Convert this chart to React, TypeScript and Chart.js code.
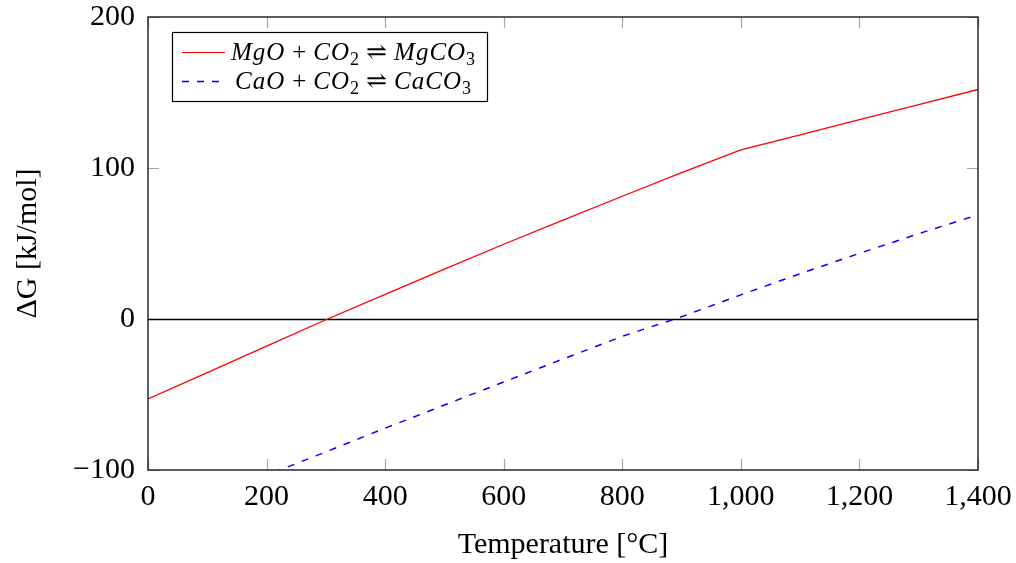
import React, { useEffect, useRef } from 'react';
import { Chart, registerables } from 'chart.js';

Chart.register(...registerables);

// ---- data ----
const temperatures = [0, 100, 200, 300, 400, 500, 600, 700, 800, 900, 1000, 1100, 1200, 1300, 1400];
const mgoDeltaG = [-53, -35.5, -18, -0.5, 16.3, 33, 49.5, 65.5, 81.3, 97, 112, 122, 132, 142, 152];
const caoDeltaG = [-134, -118.5, -103.5, -88, -72.3, -57, -41.7, -26.5, -11.5, 1.5, 16, 30, 43.5, 56.5, 69];
const xTickValues = [0, 200, 400, 600, 800, 1000, 1200, 1400];
const xTickLabels = ['0', '200', '400', '600', '800', '1,000', '1,200', '1,400'];
const yTickValues = [-100, 0, 100, 200];
const yTickLabels = ['\u2212100', '0', '100', '200'];
const seriesNames = ['MgO + CO\u2082 \u21CC MgCO\u2083', 'CaO + CO\u2082 \u21CC CaCO\u2083'];
const xTitle = 'Temperature [\u00B0C]';
const yTitle = '\u0394G [kJ/mol]';

// legend as math runs: i = italic letters, r = upright operator, s = subscript
type Run = { t: string; k: 'i' | 'r' | 's' };
const legendRuns: Run[][] = [
  [
    { t: 'MgO', k: 'i' }, { t: '+', k: 'r' }, { t: 'CO', k: 'i' }, { t: '2', k: 's' },
    { t: '\u21CC', k: 'r' }, { t: 'MgCO', k: 'i' }, { t: '3', k: 's' },
  ],
  [
    { t: 'CaO', k: 'i' }, { t: '+', k: 'r' }, { t: 'CO', k: 'i' }, { t: '2', k: 's' },
    { t: '\u21CC', k: 'r' }, { t: 'CaCO', k: 'i' }, { t: '3', k: 's' },
  ],
];

const SERIF = '"Liberation Serif", "DejaVu Serif", serif';
const RED = 'rgb(255,0,0)';
const BLUE = 'rgb(0,0,255)';
const DASH = [7, 8];

function runFont(k: Run['k'], size: number) {
  if (k === 'i') return `italic ${size}px ${SERIF}`;
  if (k === 's') return `${Math.round(size * 0.7)}px ${SERIF}`;
  return `${size}px ${SERIF}`;
}

function drawRuns(ctx: CanvasRenderingContext2D, runs: Run[], cx: number, cy: number, size: number) {
  const opSpace = size * 0.28;
  const widths = runs.map((r) => {
    ctx.font = runFont(r.k, size);
    const w = ctx.measureText(r.t).width;
    return r.k === 'r' ? w + 2 * opSpace : w + (r.k === 'i' ? size * 0.04 * r.t.length : 0);
  });
  const total = widths.reduce((a, b) => a + b, 0);
  let x = cx - total / 2;
  ctx.textBaseline = 'alphabetic';
  ctx.textAlign = 'left';
  const base = cy + size * 0.33;
  runs.forEach((r, i) => {
    ctx.font = runFont(r.k, size);
    if (r.k === 'r') {
      ctx.fillText(r.t, x + opSpace, base);
    } else if (r.k === 's') {
      ctx.fillText(r.t, x, base + size * 0.2);
    } else {
      let xx = x;
      for (const ch of r.t) {
        ctx.fillText(ch, xx, base);
        xx += ctx.measureText(ch).width + size * 0.04;
      }
    }
    x += widths[i];
  });
}

const decorPlugin = {
  id: 'decor',
  beforeDatasetsDraw(chart: any) {
    const { ctx, chartArea, scales } = chart;
    const { left, right, top, bottom } = chartArea;
    const xs = scales.x;
    const ys = scales.y;
    ctx.save();
    ctx.strokeStyle = '#a6a6a6';
    ctx.lineWidth = 1.2;
    const tl = 11;
    ctx.beginPath();
    xTickValues.forEach((v) => {
      const px = Math.round(xs.getPixelForValue(v)) + 0.5;
      ctx.moveTo(px, bottom);
      ctx.lineTo(px, bottom - tl);
      ctx.moveTo(px, top);
      ctx.lineTo(px, top + tl);
    });
    yTickValues.forEach((v) => {
      const py = Math.round(ys.getPixelForValue(v)) + 0.5;
      ctx.moveTo(left, py);
      ctx.lineTo(left + tl, py);
      ctx.moveTo(right, py);
      ctx.lineTo(right - tl, py);
    });
    ctx.stroke();
    // zero line
    const y0 = Math.round(ys.getPixelForValue(0)) + 0.5;
    ctx.strokeStyle = '#000';
    ctx.lineWidth = 1.3;
    ctx.beginPath();
    ctx.moveTo(left, y0);
    ctx.lineTo(right, y0);
    ctx.stroke();
    ctx.restore();
  },
  afterDatasetsDraw(chart: any) {
    const { ctx, chartArea } = chart;
    const { left, right, top, bottom } = chartArea;
    ctx.save();
    ctx.strokeStyle = '#1a1a1a';
    ctx.lineWidth = 1.4;
    ctx.strokeRect(left, top, right - left, bottom - top);

    // legend
    const bx = left + 24;
    const by = top + 15;
    const bw = 315;
    const bh = 69;
    ctx.fillStyle = '#fff';
    ctx.fillRect(bx, by, bw, bh);
    ctx.strokeStyle = '#000';
    ctx.lineWidth = 1.2;
    ctx.strokeRect(bx + 0.5, by + 0.5, bw, bh);
    const colors = [RED, BLUE];
    const dashes = [[], DASH];
    const rows = [by + 19.5, by + 49];
    rows.forEach((ry, i) => {
      ctx.strokeStyle = colors[i];
      ctx.lineWidth = i === 0 ? 1.2 : 1.5;
      ctx.setLineDash(dashes[i] as number[]);
      ctx.beginPath();
      ctx.moveTo(bx + 10, Math.round(ry) + 0.5);
      ctx.lineTo(bx + (i === 0 ? 53 : 49), Math.round(ry) + 0.5);
      ctx.stroke();
      ctx.setLineDash([]);
      ctx.fillStyle = '#000';
      drawRuns(ctx, legendRuns[i], bx + 181, ry, 25);
    });
    ctx.restore();
  },
};

export default function App() {
  const ref = useRef<HTMLCanvasElement | null>(null);
  useEffect(() => {
    if (!ref.current) return;
    const chart = new Chart(ref.current, {
      type: 'line',
      data: {
        datasets: [
          {
            label: seriesNames[0],
            data: temperatures.map((t, i) => ({ x: t, y: mgoDeltaG[i] })),
            borderColor: RED,
            borderWidth: 1.3,
            pointRadius: 0,
            tension: 0,
            fill: false,
          },
          {
            label: seriesNames[1],
            data: temperatures.map((t, i) => ({ x: t, y: caoDeltaG[i] })),
            borderColor: BLUE,
            borderWidth: 1.5,
            borderDash: DASH,
            pointRadius: 0,
            tension: 0,
            fill: false,
          },
        ],
      },
      options: {
        responsive: false,
        animation: false,
        devicePixelRatio: 1,
        layout: { padding: { left: 0, right: 38, top: 17, bottom: 0 } },
        plugins: { legend: { display: false }, tooltip: { enabled: false } },
        scales: {
          x: {
            type: 'linear',
            min: 0,
            max: 1400,
            afterBuildTicks: (s: any) => {
              s.ticks = xTickValues.map((v) => ({ value: v }));
            },
            afterFit: (s: any) => {
              s.height = 93;
              s.paddingLeft = 0;
              s.paddingRight = 0;
              s.paddingTop = 0;
              s.paddingBottom = 0;
            },
            grid: { display: false, drawTicks: false },
            border: { display: false },
            ticks: {
              color: '#000',
              padding: 9,
              maxRotation: 0,
              autoSkip: false,
              font: { family: SERIF, size: 30 },
              callback: (v: any) => {
                const i = xTickValues.indexOf(Number(v));
                return i >= 0 ? xTickLabels[i] : '';
              },
            },
            title: {
              display: true,
              text: xTitle,
              color: '#000',
              font: { family: SERIF, size: 30 },
              padding: { top: 0, bottom: 0 },
            },
          },
          y: {
            type: 'linear',
            min: -100,
            max: 200,
            afterBuildTicks: (s: any) => {
              s.ticks = yTickValues.map((v) => ({ value: v }));
            },
            afterFit: (s: any) => {
              s.width = 148;
              s.paddingLeft = 0;
              s.paddingRight = 0;
              s.paddingTop = 0;
              s.paddingBottom = 0;
            },
            grid: { display: false, drawTicks: false },
            border: { display: false },
            ticks: {
              color: '#000',
              padding: 13,
              autoSkip: false,
              font: { family: SERIF, size: 30 },
              callback: (v: any) => {
                const i = yTickValues.indexOf(Number(v));
                return i >= 0 ? yTickLabels[i] : '';
              },
            },
            title: {
              display: true,
              text: yTitle,
              color: '#000',
              font: { family: SERIF, size: 30 },
              padding: { top: 10, bottom: 0 },
            },
          },
        },
      },
      plugins: [decorPlugin],
    });
    return () => chart.destroy();
  }, []);
  return (
    <div style={{ position: 'fixed', left: 0, top: 0, width: 1016, height: 563, background: '#fff' }}>
      <canvas ref={ref} width={1016} height={563} style={{ display: 'block' }} />
    </div>
  );
}
